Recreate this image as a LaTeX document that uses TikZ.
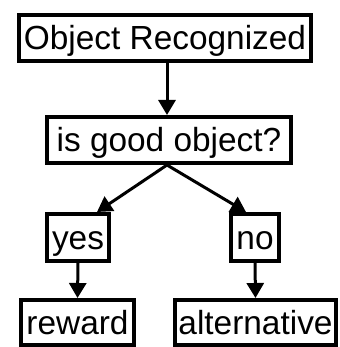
\documentclass[tikz,border=0pt]{standalone}
\usepackage{fontspec}
\setmainfont{Liberation Sans}
\usetikzlibrary{arrows.meta}
\begin{document}
\begin{tikzpicture}[x=1pt,y=-1pt,
  box/.style={draw=black,line width=4pt,inner sep=0pt,font=\fontsize{33.4}{36}\selectfont,text height=24pt,text depth=0pt},
  arr/.style={line width=3pt,-{Triangle[width=17pt,length=15pt]}}]
\useasboundingbox (0,0) rectangle (339,347);
\node[box,minimum width=292pt,minimum height=46pt] (b1) at (165,38) {Object Recognized};
\node[box,minimum width=244pt,minimum height=46pt] (b2) at (169,140) {is good object?};
\node[box,minimum width=62pt,minimum height=47pt] (yes) at (78,237.5) {yes};
\node[box,minimum width=48pt,minimum height=47pt] (no) at (255,237.5) {no};
\node[box,minimum width=113pt,minimum height=45pt] (rw) at (77.5,322.5) {reward};
\node[box,minimum width=161pt,minimum height=45pt] (alt) at (255.5,322.5) {alternative};
\draw[arr] ([xshift=2pt]b1.south) -- ([xshift=-2pt]b2.north);
\draw[arr] ([xshift=-2pt]b2.south) -- ([xshift=19pt]yes.north);
\draw[arr] ([xshift=-2pt]b2.south) -- ([xshift=-9pt]no.north);
\draw[arr] (yes.south) -- (rw.north);
\draw[arr] (no.south) -- (alt.north);
\end{tikzpicture}
\end{document}
